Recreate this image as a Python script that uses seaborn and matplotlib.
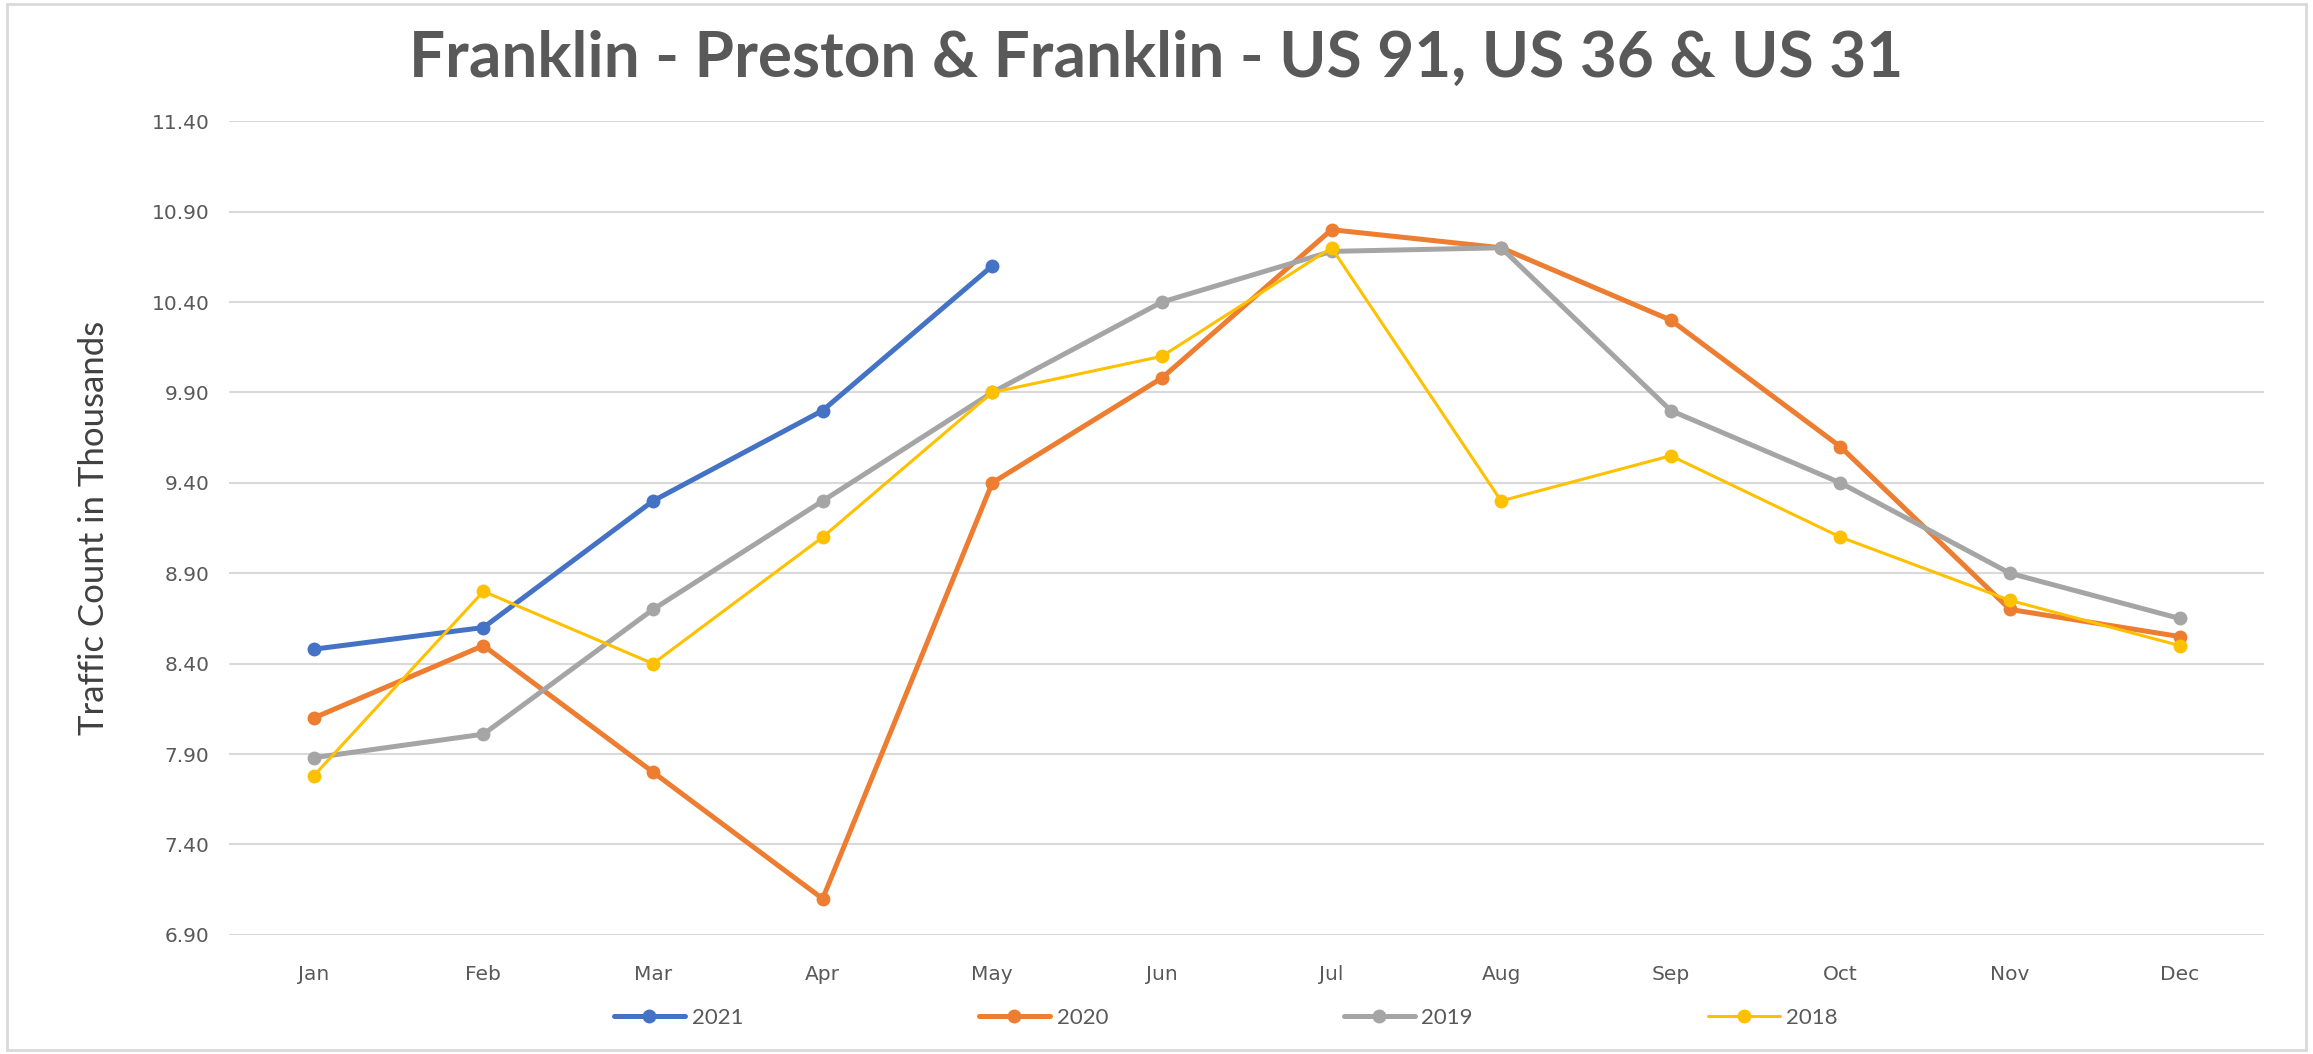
import pandas as pd
import seaborn as sns
import matplotlib.pyplot as plt
from matplotlib.patches import Rectangle

# monthly traffic counts (thousands)
months = ["Jan", "Feb", "Mar", "Apr", "May", "Jun", "Jul", "Aug", "Sep", "Oct", "Nov", "Dec"]
y2021 = [8.48, 8.60, 9.30, 9.80, 10.60]
y2020 = [8.10, 8.50, 7.80, 7.10, 9.40, 9.98, 10.80, 10.70, 10.30, 9.60, 8.70, 8.55]
y2019 = [7.88, 8.01, 8.70, 9.30, 9.90, 10.40, 10.68, 10.70, 9.80, 9.40, 8.90, 8.65]
y2018 = [7.78, 8.80, 8.40, 9.10, 9.90, 10.10, 10.70, 9.30, 9.55, 9.10, 8.75, 8.50]
yticks = [6.90, 7.40, 7.90, 8.40, 8.90, 9.40, 9.90, 10.40, 10.90, 11.40]

series = {"2021": y2021, "2020": y2020, "2019": y2019, "2018": y2018}
colors = {"2021": "#4472C4", "2020": "#ED7D31", "2019": "#A5A5A5", "2018": "#FFC000"}
widths = {"2021": 3.6, "2020": 3.6, "2019": 3.6, "2018": 2.2}

sns.set_style("white")
plt.rcParams['font.family'] = ['Lato', 'DejaVu Sans']

fig = plt.figure(figsize=(23.13, 10.54), dpi=100)
ax = fig.add_axes([0.099, 0.113, 0.880, 0.772])

for yr, vals in series.items():
    df = pd.DataFrame({"Month": months[:len(vals)], "Count": vals})
    sns.lineplot(data=df, x="Month", y="Count", ax=ax, color=colors[yr],
                 linewidth=widths[yr], marker="o", markersize=10,
                 markeredgewidth=0, label=yr, sort=False)

ax.set_xlim(-0.5, 11.5)
ax.set_ylim(6.90, 11.40)
ax.set_yticks(yticks)
ax.set_yticklabels([f"{v:.2f}" for v in yticks], family="DejaVu Sans")
ax.tick_params(axis="both", colors="#595959", labelsize=14.5, length=0, pad=14)
ax.tick_params(axis="x", pad=22)
for lbl in ax.get_xticklabels():
    lbl.set_family("DejaVu Sans")
ax.yaxis.grid(True, color="#d9d9d9", linewidth=1.5)
ax.set_axisbelow(True)
sns.despine(ax=ax, left=True, bottom=True)
ax.set_xlabel("")
ax.set_ylabel("Traffic Count in Thousands", fontsize=25, color="#404040", labelpad=30)

fig.suptitle("Franklin - Preston & Franklin - US 91, US 36 & US 31", fontsize=46,
             fontweight="bold", color="#595959", x=0.5, y=0.972)

handles, labels = ax.get_legend_handles_labels()
ax.legend(handles, labels, loc="center", bbox_to_anchor=(0.53, 0.034),
          bbox_transform=fig.transFigure, ncol=4, frameon=False,
          fontsize=16, columnspacing=10.6, handlelength=3.2, handletextpad=0.3,
          labelcolor="#595959")

# chart border
fig.patches.append(Rectangle((0.003, 0.004), 0.994, 0.992, transform=fig.transFigure,
                             fill=False, edgecolor="#d9d9d9", linewidth=2))

fig.savefig("out.png", dpi=100)
